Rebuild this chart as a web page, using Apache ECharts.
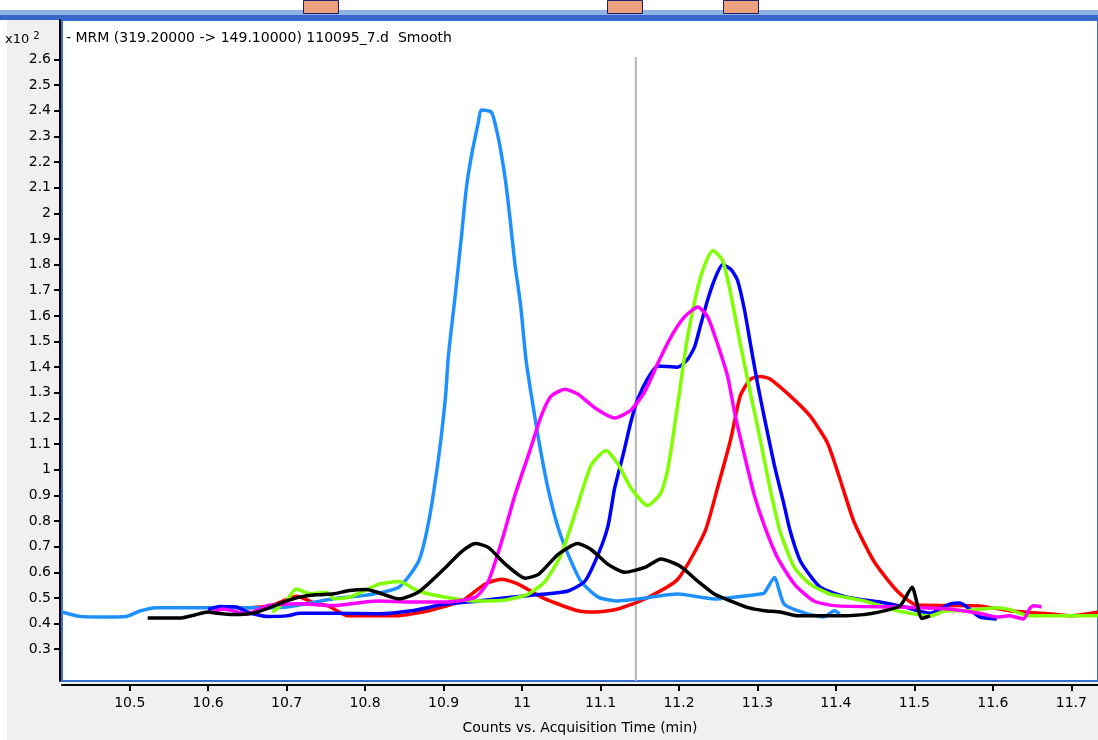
<!DOCTYPE html>
<html>
<head>
    <meta charset="utf-8">
    <title>MRM chromatogram</title>
    <style>
        html,body,#main{
            height: 100%;
            width: 100%;
            padding: 0;
            margin: 0;
            background: #fff;
        }
    </style>
</head>
<body>
    <div id="main"></div>
    <script src="https://cdn.jsdelivr.net/npm/echarts@6/dist/echarts.min.js"></script>
    <script>
        // tick labels
        let xTicks = [10.5, 10.6, 10.7, 10.8, 10.9, 11, 11.1, 11.2, 11.3, 11.4, 11.5, 11.6, 11.7]
        let yTicks = [0.3, 0.4, 0.5, 0.6, 0.7, 0.8, 0.9, 1, 1.1, 1.2, 1.3, 1.4, 1.5, 1.6, 1.7, 1.8, 1.9, 2, 2.1, 2.2, 2.3, 2.4, 2.5, 2.6]

        // traces, [time (min), counts x10^2]
        let lightBlue = [[10.4137,0.445],[10.436,0.428],[10.46,0.426],[10.496,0.428],[10.513,0.449],[10.534,0.462],[10.6,0.462],[10.65,0.462],[10.7,0.465],[10.76,0.497],[10.8,0.51],[10.843,0.542],[10.868,0.642],[10.881,0.797],[10.894,1.056],[10.9025,1.287],[10.906,1.44],[10.915,1.685],[10.923,1.917],[10.929,2.098],[10.9356,2.226],[10.9444,2.357],[10.948,2.403],[10.961,2.395],[10.97,2.29],[10.979,2.125],[10.985,1.97],[10.991,1.8],[10.998,1.646],[11.005,1.43],[11.012,1.287],[11.021,1.12],[11.033,0.928],[11.046,0.774],[11.0587,0.67],[11.075,0.565],[11.097,0.503],[11.122,0.488],[11.1476,0.496],[11.1984,0.515],[11.245,0.496],[11.304,0.515],[11.309,0.52],[11.3216,0.58],[11.334,0.476],[11.3635,0.438],[11.385,0.426],[11.398,0.45],[11.405,0.438]]
        let red = [[10.64,0.46],[10.68,0.47],[10.713,0.507],[10.735,0.48],[10.753,0.469],[10.778,0.43],[10.81,0.43],[10.839,0.43],[10.881,0.45],[10.923,0.488],[10.953,0.554],[10.974,0.573],[10.995,0.554],[11.0295,0.496],[11.071,0.45],[11.093,0.445],[11.122,0.457],[11.1565,0.496],[11.1984,0.573],[11.233,0.758],[11.249,0.928],[11.266,1.12],[11.278,1.287],[11.291,1.353],[11.304,1.364],[11.3165,1.353],[11.342,1.287],[11.367,1.21],[11.389,1.106],[11.405,0.965],[11.423,0.797],[11.4486,0.642],[11.478,0.527],[11.503,0.472],[11.583,0.469],[11.621,0.45],[11.672,0.438],[11.7,0.43],[11.734,0.445]]
        let green = [[10.682,0.445],[10.7,0.49],[10.712,0.535],[10.73,0.516],[10.751,0.522],[10.76,0.497],[10.78,0.503],[10.8,0.529],[10.8175,0.554],[10.843,0.564],[10.868,0.527],[10.9025,0.503],[10.9444,0.488],[10.979,0.492],[11.008,0.515],[11.0295,0.565],[11.05,0.67],[11.071,0.862],[11.088,1.017],[11.107,1.075],[11.122,1.023],[11.139,0.928],[11.16,0.86],[11.177,0.91],[11.186,1.005],[11.1984,1.255],[11.211,1.519],[11.224,1.712],[11.233,1.8],[11.243,1.855],[11.2556,1.816],[11.266,1.685],[11.278,1.492],[11.291,1.3],[11.304,1.11],[11.3165,0.92],[11.329,0.758],[11.347,0.619],[11.367,0.554],[11.393,0.515],[11.436,0.488],[11.478,0.45],[11.52,0.43],[11.541,0.45],[11.563,0.45],[11.605,0.462],[11.621,0.455],[11.6467,0.43],[11.734,0.43]]
        let blue = [[10.6,0.455],[10.615,0.467],[10.636,0.465],[10.65,0.445],[10.675,0.428],[10.7,0.43],[10.717,0.44],[10.76,0.44],[10.8175,0.438],[10.859,0.45],[10.9025,0.476],[10.9444,0.488],[10.986,0.503],[11.0295,0.515],[11.0587,0.527],[11.08,0.565],[11.097,0.67],[11.1095,0.78],[11.118,0.928],[11.1286,1.056],[11.139,1.19],[11.1476,1.276],[11.16,1.355],[11.173,1.405],[11.1984,1.4],[11.211,1.43],[11.22,1.48],[11.228,1.569],[11.2365,1.662],[11.245,1.739],[11.2556,1.8],[11.266,1.782],[11.2746,1.739],[11.2835,1.623],[11.291,1.492],[11.3,1.338],[11.309,1.2],[11.3216,1.017],[11.334,0.862],[11.342,0.758],[11.355,0.642],[11.38,0.542],[11.414,0.503],[11.456,0.484],[11.487,0.465],[11.52,0.44],[11.545,0.476],[11.558,0.48],[11.583,0.426],[11.605,0.418]]
        let magenta = [[10.606,0.445],[10.619,0.457],[10.65,0.438],[10.675,0.47],[10.7,0.476],[10.717,0.477],[10.76,0.47],[10.8,0.484],[10.8175,0.488],[10.859,0.484],[10.9025,0.484],[10.9406,0.503],[10.957,0.565],[10.974,0.72],[10.991,0.901],[11.008,1.056],[11.0245,1.21],[11.037,1.287],[11.055,1.314],[11.071,1.295],[11.093,1.241],[11.118,1.202],[11.139,1.233],[11.1565,1.305],[11.173,1.415],[11.19,1.519],[11.207,1.596],[11.224,1.635],[11.2365,1.596],[11.249,1.492],[11.262,1.364],[11.271,1.222],[11.2835,1.056],[11.296,0.901],[11.309,0.78],[11.3254,0.658],[11.347,0.554],[11.372,0.488],[11.4016,0.469],[11.478,0.465],[11.541,0.458],[11.583,0.44],[11.605,0.426],[11.621,0.43],[11.639,0.418],[11.6467,0.457],[11.652,0.469],[11.662,0.465]]
        let black = [[10.5229,0.422],[10.566,0.422],[10.581,0.432],[10.6,0.445],[10.611,0.44],[10.632,0.435],[10.657,0.44],[10.675,0.458],[10.696,0.484],[10.717,0.503],[10.738,0.512],[10.76,0.516],[10.78,0.529],[10.802,0.533],[10.8175,0.52],[10.843,0.496],[10.868,0.523],[10.9025,0.619],[10.923,0.681],[10.9406,0.712],[10.957,0.697],[10.979,0.631],[11.004,0.577],[11.021,0.592],[11.046,0.67],[11.071,0.712],[11.088,0.689],[11.1095,0.631],[11.131,0.6],[11.1565,0.619],[11.177,0.652],[11.202,0.623],[11.224,0.565],[11.245,0.515],[11.266,0.488],[11.287,0.463],[11.309,0.45],[11.329,0.445],[11.351,0.43],[11.405,0.43],[11.4435,0.438],[11.4816,0.469],[11.497,0.542],[11.5095,0.42],[11.52,0.43]]

        // cursor line position
        let cursorTime = 11.145
        let cursorSpan = [0.176, 2.61]

        let font = 'DejaVu Sans'

        function trace(data, color) {
            return {
                type: 'line',
                data: data,
                showSymbol: false,
                smooth: 0.2,
                silent: true,
                lineStyle: { color: color, width: 3.5 }
            }
        }

        let chart = echarts.init(document.getElementById('main'))
        chart.setOption({
            backgroundColor: '#f0f0f0',
            animation: false,
            title: [{
                text: '- MRM (319.20000 -> 149.10000) 110095_7.d  Smooth',
                left: 66, top: 31, padding: 0,
                textStyle: { fontFamily: font, fontSize: 14, fontWeight: 'normal', color: '#000' }
            }, {
                text: '{a|x10 }{b|2}',
                left: 5, top: 31, padding: 0,
                textStyle: {
                    fontWeight: 'normal',
                    rich: {
                        a: { fontFamily: font, fontSize: 13, fontWeight: 'normal', color: '#000' },
                        b: { fontFamily: font, fontSize: 10, fontWeight: 'normal', color: '#000', padding: [0, 0, 7, 0] }
                    }
                }
            }],
            grid: {
                left: 62, right: -4, top: 20, bottom: 53,
                show: true,
                backgroundColor: '#fff',
                borderColor: '#3a6fd0',
                borderWidth: 2
            },
            xAxis: {
                type: 'value',
                min: 10.4137, max: 11.734,
                offset: 4,
                name: 'Counts vs. Acquisition Time (min)',
                nameLocation: 'middle',
                nameGap: 36,
                nameTextStyle: { fontFamily: font, fontSize: 14, color: '#000' },
                axisLine: { lineStyle: { color: '#000', width: 2 } },
                axisTick: { customValues: xTicks, length: 6, lineStyle: { color: '#000', width: 2 } },
                axisLabel: {
                    customValues: xTicks, margin: 11,
                    fontFamily: font, fontSize: 14, color: '#000',
                    formatter: v => String(+v.toFixed(1))
                },
                splitLine: { show: false }
            },
            yAxis: {
                type: 'value',
                min: 0.176, max: 2.754,
                offset: 2,
                axisLine: { show: true, lineStyle: { color: '#000', width: 2 } },
                axisTick: { show: true, customValues: yTicks, length: 6, lineStyle: { color: '#000', width: 2 } },
                axisLabel: {
                    customValues: yTicks, margin: 9,
                    fontFamily: font, fontSize: 14, color: '#000',
                    formatter: v => String(+v.toFixed(1))
                },
                splitLine: { show: false }
            },
            graphic: [
                { type: 'rect', left: 0, top: 0, shape: { width: 1098, height: 10 }, style: { fill: '#fff' } },
                { type: 'rect', left: 0, top: 0, shape: { width: 7, height: 740 }, style: { fill: '#fff' } },
                { type: 'rect', left: 0, top: 10, shape: { width: 1098, height: 5 }, style: { fill: '#8fb4e3' } },
                { type: 'rect', left: 0, top: 15, shape: { width: 1098, height: 5 }, style: { fill: '#3566c8' } },
                { type: 'rect', left: 303, top: 0, shape: { width: 35, height: 13 }, style: { fill: '#eca27e', stroke: '#1c1c6c', lineWidth: 1 } },
                { type: 'rect', left: 607, top: 0, shape: { width: 35, height: 13 }, style: { fill: '#eca27e', stroke: '#1c1c6c', lineWidth: 1 } },
                { type: 'rect', left: 723, top: 0, shape: { width: 35, height: 13 }, style: { fill: '#eca27e', stroke: '#1c1c6c', lineWidth: 1 } }
            ],
            series: [
                {
                    type: 'line',
                    data: [[cursorTime, cursorSpan[0]], [cursorTime, cursorSpan[1]]],
                    showSymbol: false,
                    silent: true,
                    lineStyle: { color: '#b4b4b4', width: 2 }
                },
                trace(red, '#ff0000'),
                trace(lightBlue, '#1e90ff'),
                trace(blue, '#0000ff'),
                trace(green, '#80ff00'),
                trace(magenta, '#ff00ff'),
                trace(black, '#000000')
            ]
        })
    </script>
</body>
</html>
